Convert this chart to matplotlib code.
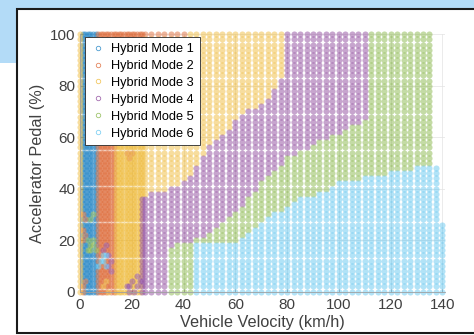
import numpy as np
import matplotlib
matplotlib.use("Agg")
import matplotlib.pyplot as plt
from matplotlib.patches import Rectangle
from matplotlib.lines import Line2D

plt.rcParams['font.family'] = ['Liberation Sans', 'DejaVu Sans']

# sampling grid of the operating map
vel_low = np.arange(0, 25, 1.0)          # km/h, fine grid at low speed
vel_high = np.arange(25, 140.1, 2.5)     # km/h
pedal = np.arange(0, 101, 2)             # %

mode_names = ['Hybrid Mode 1', 'Hybrid Mode 2', 'Hybrid Mode 3',
              'Hybrid Mode 4', 'Hybrid Mode 5', 'Hybrid Mode 6']
mode_colors = ['#0072BD', '#D95319', '#EDB120', '#7E2F8E', '#77AC30', '#4DBEEE']

# region boundaries (velocity -> pedal)
b34_vel = [23, 26, 34, 41, 46, 51, 59, 63, 71, 76, 78.5, 79]
b34_ped = [36, 38, 40, 43, 51, 58, 65, 69, 73, 80, 86, 101]
b45_vel = [33, 34, 40, 46, 52, 58, 65, 70, 75, 80, 90, 100, 105, 110, 111]
b45_ped = [-1, 17, 19, 21, 24, 29, 36, 42, 46, 52, 57, 61, 64, 67, 101]
b56_vel = [44, 50, 58, 65, 75, 85, 93, 100, 110, 120, 130, 137.5, 140]
b56_ped = [18, 18, 18, 22, 30, 36, 39, 42, 44, 46, 48, 49, 26]
top_vel = [135, 137.5, 140]
top_ped = [100, 49, 26]

# scattered points in the low-speed, low-pedal area
mix_vel = [3, 4, 4, 5, 5, 3, 6, 4, 5,
           8, 9, 9, 10, 7, 10,
           9, 11, 12, 11, 10, 12, 19, 19, 20, 21, 22, 23, 22, 18,
           1, 1, 2, 1, 2, 1, 1, 2, 18, 19, 20,
           9, 10, 11]
mix_ped = [16, 16, 18, 18, 20, 20, 16, 28, 30,
           12, 12, 14, 10, 10, 14,
           16, 14, 12, 10, 18, 8, 0, 2, 4, 0, 2, 4, 6, 2,
           20, 24, 28, 30, 22, 0, 2, 4, 54, 52, 54,
           2, 4, 0]
mix_mode = [5, 5, 5, 5, 5, 5, 5, 5, 5,
            6, 6, 6, 6, 6, 6,
            4, 4, 4, 4, 4, 4, 4, 4, 4, 4, 4, 4, 4, 4,
            2, 2, 2, 2, 2, 2, 2, 2, 2, 2, 2,
            3, 3, 3]


def mode_of(v, p):
    if v == 0:
        return 3
    if 7 <= v <= 24 and p >= 98:
        return 2
    if 24 < v <= 41 and p >= 100:
        return 2
    if v <= 6:
        return 1
    if v <= 13:
        return 2
    if v <= 23:
        return 3
    if p > np.interp(v, b34_vel, b34_ped):
        return 3
    if v < 33.5 or p > np.interp(v, b45_vel, b45_ped):
        return 4
    if v >= 44 and p <= np.interp(v, b56_vel, b56_ped):
        return 6
    return 5


points = {m: ([], []) for m in range(1, 7)}
overrides = {(v, p): m for v, p, m in zip(mix_vel, mix_ped, mix_mode)}
for v in np.concatenate([vel_low, vel_high]):
    top = 100 if v <= 135 else np.interp(v, top_vel, top_ped)
    for p in pedal:
        if p > top:
            continue
        m = overrides.get((v, p), mode_of(v, p))
        points[m][0].append(v)
        points[m][1].append(p)

fig = plt.figure(figsize=(4.74, 3.35), dpi=100)
fig.patch.set_facecolor('white')
# slide background: banner and framed picture
fig.add_artist(Rectangle((0, 1 - 63 / 335), 1, 63 / 335, transform=fig.transFigure,
                         facecolor='#b3dbf7', edgecolor='none', zorder=-3))
fig.add_artist(Rectangle((17 / 474, 1 - 333 / 335), (490 - 17) / 474, (333 - 9) / 335,
                         transform=fig.transFigure, facecolor='white',
                         edgecolor='#1a1a1a', lw=1.5, zorder=-2))

ax = fig.add_axes([80 / 474, 1 - 291.5 / 335, 365 / 474, 257.2 / 335])
ax.set_facecolor('none')

for m in range(1, 7):
    ax.plot(points[m][0], points[m][1], 'o', ls='none', color=mode_colors[m - 1],
            mew=0, ms=4.4, alpha=0.43, clip_on=False, zorder=2)

ax.set_xlim(0, 141)
ax.set_ylim(0, 100)
ax.set_xticks(range(0, 141, 20))
ax.set_yticks(range(0, 101, 20))
ax.set_axisbelow(True)
ax.grid(color='#e3e3e3', lw=0.5)
for s in ['top', 'right']:
    ax.spines[s].set_visible(False)
for s in ['left', 'bottom']:
    ax.spines[s].set_color('#a0a0a0')
    ax.spines[s].set_linewidth(0.6)
ax.tick_params(direction='in', length=2.5, width=0.6, color='#a0a0a0',
               labelsize=11, labelcolor='#404040', pad=3.5)
ax.tick_params(axis='x', pad=4.5)
ax.set_xlabel('Vehicle Velocity (km/h)', fontsize=11.7, color='#404040', labelpad=2.5)
ax.set_ylabel('Accelerator Pedal (%)', fontsize=11.7, color='#404040', labelpad=3)

handles = [Line2D([], [], marker='o', ls='none', mfc='none', mec=c, ms=3.2, mew=0.6,
                  alpha=0.7)
           for c in mode_colors]
leg = ax.legend(handles, mode_names, loc='upper left', bbox_to_anchor=(0.0137, 0.9876),
                borderaxespad=0, fontsize=9.2, frameon=True, fancybox=False,
                borderpad=0.45, handlelength=1.2, handletextpad=0.4, labelspacing=0.38,
                edgecolor='#262626', framealpha=1)
leg.get_frame().set_linewidth(0.6)
leg.set_zorder(5)

fig.savefig('out.png', dpi=100)
